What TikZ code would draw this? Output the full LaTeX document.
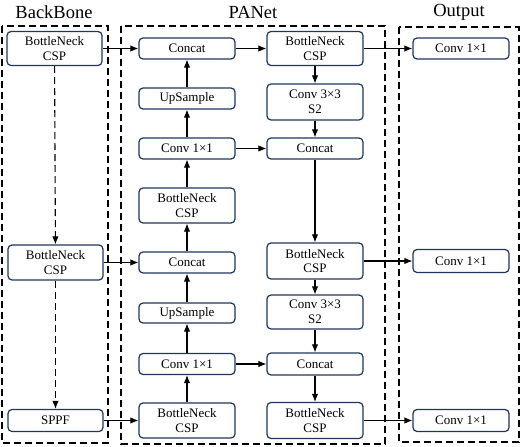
\documentclass[tikz,border=0pt]{standalone}
\usepackage{fontspec}
\setmainfont{Liberation Serif}
\usetikzlibrary{arrows.meta}
\definecolor{boxline}{HTML}{1F3560}
\tikzset{
  blk/.style={draw=boxline, line width=1.2pt, rounded corners=4pt, minimum width=96pt,
    inner sep=0pt, align=center, font=\fontsize{13pt}{14.5pt}\selectfont, text=black},
  one/.style={blk, minimum height=21pt},
  two/.style={blk, minimum height=35pt},
  arr/.style={line width=1.1pt, -{Latex[length=8pt,width=6.5pt]}},
  darr/.style={arr, dash pattern=on 7pt off 4pt},
  frame/.style={line width=2pt, dash pattern=on 7pt off 4pt},
  ttl/.style={font=\fontsize{18.5pt}{20pt}\selectfont}
}
\begin{document}
\begin{tikzpicture}[x=1pt,y=-1pt]
\useasboundingbox (0,0) rectangle (520,447);
% frames
\draw[frame] (2,26) rectangle (108,443);
\draw[frame] (121,26) rectangle (385,444);
\draw[frame] (399,27) rectangle (518.5,442);
\node[ttl] (tbb) at (54,12) {BackBone};
\node[ttl] (tpa) at (253,12) {PANet};
\node[ttl] (tout) at (459,12) {Output};
% backbone
\node[two, minimum width=95pt, minimum height=34pt] (bb1) at (54.5,48.5) {BottleNeck\\CSP};
\node[two, minimum width=95pt] (bb2) at (55.5,262.5) {BottleNeck\\CSP};
\node[one, minimum width=95pt, minimum height=22pt] (sppf) at (55.5,420.5) {SPPF};
% PANet left
\node[one] (l1) at (187,48.5) {Concat};
\node[one] (l2) at (187,98.5) {UpSample};
\node[one] (l3) at (187,148.5) {Conv 1×1};
\node[two] (l4) at (187,205.5) {BottleNeck\\CSP};
\node[one] (l5) at (187,262.5) {Concat};
\node[one, minimum height=20pt] (l6) at (187,313) {UpSample};
\node[one] (l7) at (187,364) {Conv 1×1};
\node[two] (l8) at (187,420.5) {BottleNeck\\CSP};
% PANet right
\node[two, minimum height=34pt] (r1) at (315,48.5) {BottleNeck\\CSP};
\node[two, minimum height=36pt] (r2) at (315,102) {Conv 3×3\\S2};
\node[one] (r3) at (315,148.5) {Concat};
\node[two, minimum height=36pt] (r4) at (315,261) {BottleNeck\\CSP};
\node[two, minimum height=34pt] (r5) at (315,312) {Conv 3×3\\S2};
\node[one, minimum height=22pt] (r6) at (315,364) {Concat};
\node[two, minimum height=36pt] (r7) at (315,420.5) {BottleNeck\\CSP};
% Output
\node[one] (o1) at (461,48.5) {Conv 1×1};
\node[one, minimum height=23pt] (o2) at (461,261) {Conv 1×1};
\node[one, minimum height=22pt] (o3) at (461,420.5) {Conv 1×1};
% backbone arrows
\draw[darr] (bb1) -- (bb2);
\draw[darr] (bb2) -- (sppf);
\draw[arr] (bb1) -- (l1);
\draw[arr] (bb2) -- (l5);
\draw[arr] (sppf) -- (l8);
% left column upward
\draw[arr] (l8) -- (l7);
\draw[arr] (l7) -- (l6);
\draw[arr] (l6) -- (l5);
\draw[arr] (l5) -- (l4);
\draw[arr] (l4) -- (l3);
\draw[arr] (l3) -- (l2);
\draw[arr] (l2) -- (l1);
% cross
\draw[arr] (l1) -- (r1);
\draw[arr] (l3) -- (r3);
\draw[arr] (l7) -- (r6);
% right column downward
\draw[arr] (r1) -- (r2);
\draw[arr] (r2) -- (r3);
\draw[arr] (r3) -- (r4);
\draw[arr] (r4) -- (r5);
\draw[arr] (r5) -- (r6);
\draw[arr] (r6) -- (r7);
% outputs
\draw[arr] (r1) -- (o1);
\draw[arr] (r4) -- (o2);
\draw[arr] (r7) -- (o3);
\end{tikzpicture}
\end{document}
